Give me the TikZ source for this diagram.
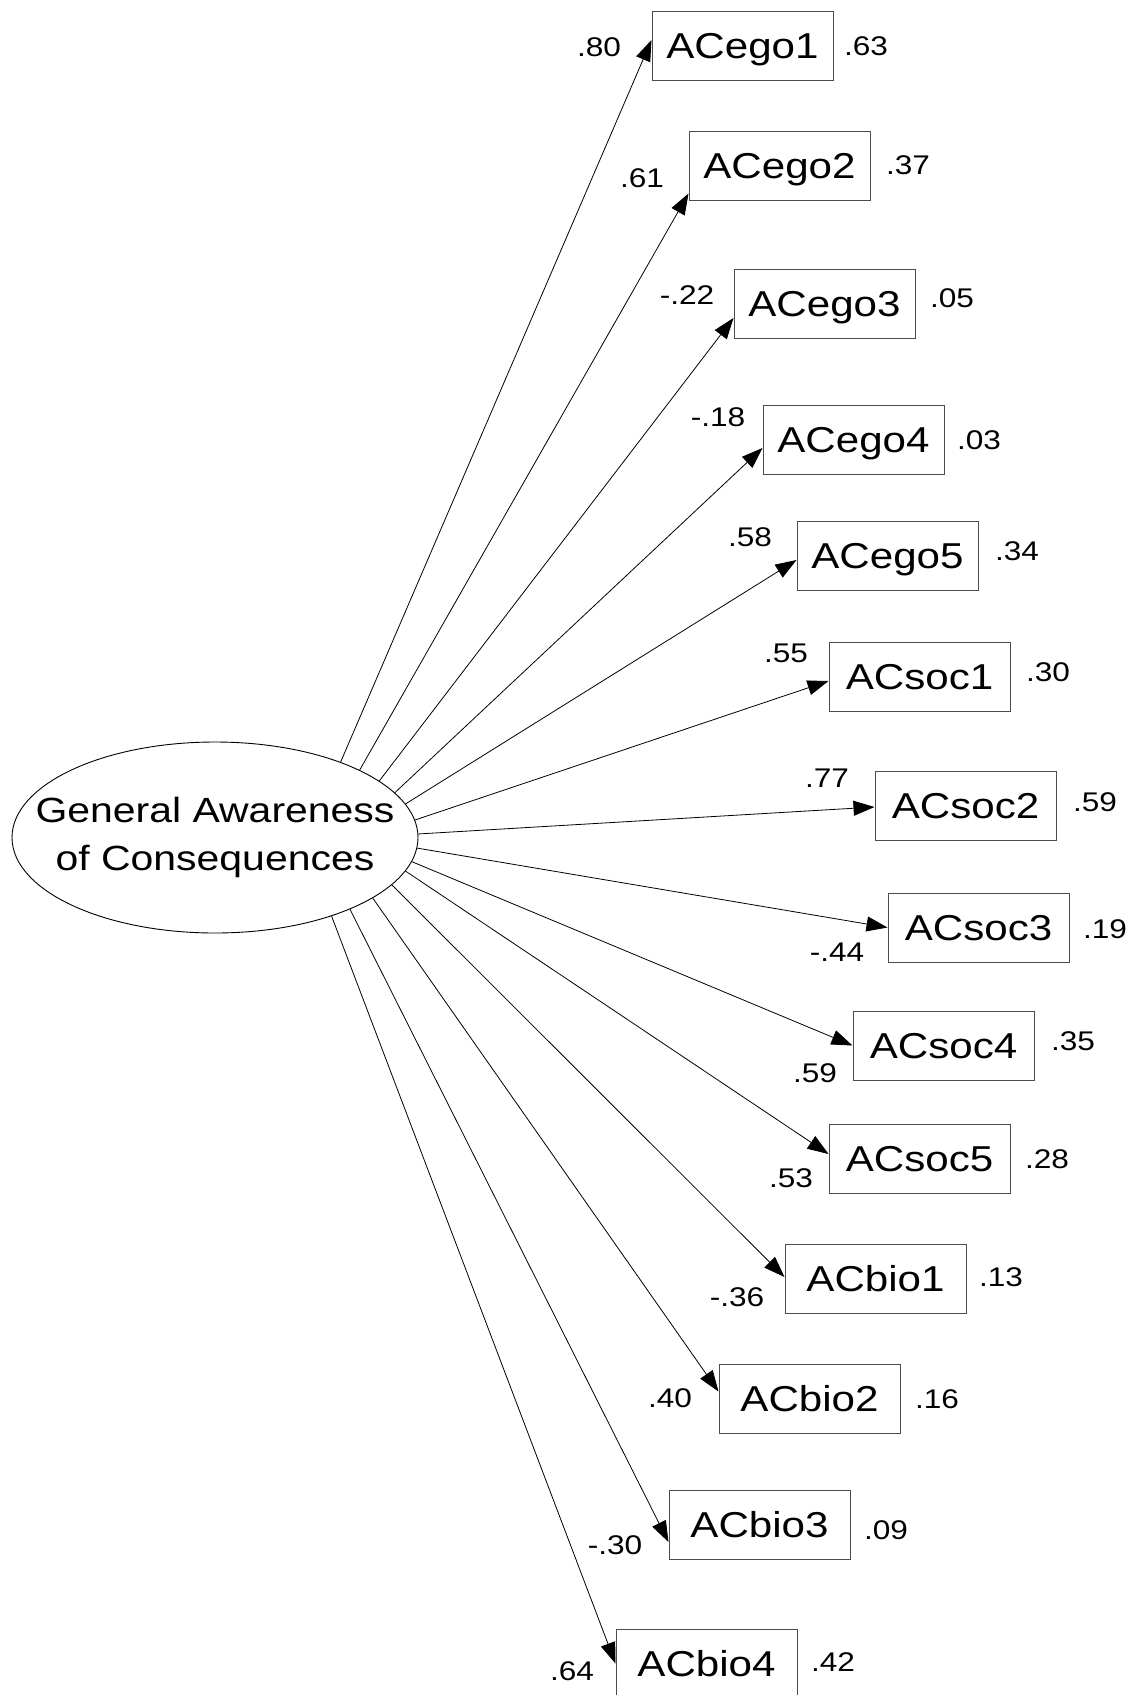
\documentclass[tikz,border=0pt]{standalone}
\usepackage{fontspec}
\setmainfont[FakeStretch=1.17]{Liberation Sans}
\usepackage{tikz}
\usetikzlibrary{arrows.meta,shapes.geometric}

\begin{document}
\begin{tikzpicture}[
            x=1pt,
            y=-1pt,
            latent/.style={
                draw,
                ellipse,
                line width=0.9pt,
                minimum width=406pt,
                minimum height=191pt,
                inner sep=0pt
            },
            latentname/.style={
                inner sep=0pt,
                align=center,
                font=\fontsize{35}{48}\selectfont
            },
            item/.style={
                draw=black!70,
                fill=white,
                line width=1pt,
                minimum width=181pt,
                minimum height=69pt,
                inner sep=0pt,
                text height=26pt,
                text depth=0pt,
                font=\fontsize{36}{40}\selectfont
            },
            coef/.style={
                inner sep=0pt,
                text height=19pt,
                text depth=0pt,
                font=\fontsize{27}{30}\selectfont
            },
            loadarrow/.style={
                line width=0.8pt,
                -{Triangle[length=21pt,width=15pt]}
            }
        ]
            \useasboundingbox (0,0) rectangle (1139,1695);

            \node[latent] (gac) at (215,837.5) {};
            \node[latentname] (gacname) at (215,837) {General Awareness\\of Consequences};

            \node[item] (ego1) at (742.5,45.5) {ACego1};
            \node[item] (ego2) at (779.5,165.5) {ACego2};
            \node[item] (ego3) at (824.5,303.5) {ACego3};
            \node[item] (ego4) at (853.5,439.5) {ACego4};
            \node[item] (ego5) at (887.5,555.5) {ACego5};
            \node[item] (soc1) at (919.5,676.5) {ACsoc1};
            \node[item] (soc2) at (965.5,805.5) {ACsoc2};
            \node[item] (soc3) at (978.5,927.5) {ACsoc3};
            \node[item] (soc4) at (943.5,1045.5) {ACsoc4};
            \node[item] (soc5) at (919.5,1158.5) {ACsoc5};
            \node[item] (bio1) at (875.5,1278.5) {ACbio1};
            \node[item] (bio2) at (809.5,1398.5) {ACbio2};
            \node[item] (bio3) at (759.5,1524.5) {ACbio3};
            \node[item] (bio4) at (706.5,1663.5) {ACbio4};

            \draw[loadarrow] (gac.31) -- ([yshift=5.5pt]ego1.west);
            \draw[loadarrow] (gac.25) -- ([yshift=-28pt]ego2.west);
            \draw[loadarrow] (gac.19) -- ([yshift=-14.5pt]ego3.west);
            \draw[loadarrow] (gac.14) -- ([yshift=-8.5pt]ego4.west);
            \draw[loadarrow] (gac.10) -- ([yshift=-4.5pt]ego5.west);
            \draw[loadarrow] (gac.5) -- ([yshift=-4.5pt]soc1.west);
            \draw[loadarrow] (gac.1) -- ([yshift=-1.5pt]soc2.west);
            \draw[loadarrow] (gac.-3) -- (soc3.west);
            \draw[loadarrow] (gac.-7) -- (soc4.west);
            \draw[loadarrow] (gac.-10) -- ([yshift=4.5pt]soc5.west);
            \draw[loadarrow] (gac.-15) -- ([yshift=1.5pt]bio1.west);
            \draw[loadarrow] (gac.-21) -- ([yshift=7pt]bio2.west);
            \draw[loadarrow] (gac.-28) -- ([yshift=-17.5pt]bio3.west);
            \draw[loadarrow] (gac.-34) -- (bio4.west);

            \node[coef] (l1) at (599,47) {.80};
            \node[coef] (l2) at (642,178) {.61};
            \node[coef] (l3) at (687,295) {-.22};
            \node[coef] (l4) at (718,417) {-.18};
            \node[coef] (l5) at (750,537) {.58};
            \node[coef] (l6) at (786,653) {.55};
            \node[coef] (l7) at (827,778) {.77};
            \node[coef] (l8) at (837,952) {-.44};
            \node[coef] (l9) at (815,1073) {.59};
            \node[coef] (l10) at (791,1178) {.53};
            \node[coef] (l11) at (737,1297) {-.36};
            \node[coef] (l12) at (670,1398) {.40};
            \node[coef] (l13) at (615,1545) {-.30};
            \node[coef] (l14) at (572,1671) {.64};

            \node[coef] (r1) at (866,46) {.63};
            \node[coef] (r2) at (908,165) {.37};
            \node[coef] (r3) at (952,298) {.05};
            \node[coef] (r4) at (979,440) {.03};
            \node[coef] (r5) at (1017,551) {.34};
            \node[coef] (r6) at (1048,672) {.30};
            \node[coef] (r7) at (1095,802) {.59};
            \node[coef] (r8) at (1105,929) {.19};
            \node[coef] (r9) at (1073,1041) {.35};
            \node[coef] (r10) at (1047,1159) {.28};
            \node[coef] (r11) at (1001,1277) {.13};
            \node[coef] (r12) at (937,1399) {.16};
            \node[coef] (r13) at (886,1530) {.09};
            \node[coef] (r14) at (833,1662) {.42};
        \end{tikzpicture}
\end{document}
